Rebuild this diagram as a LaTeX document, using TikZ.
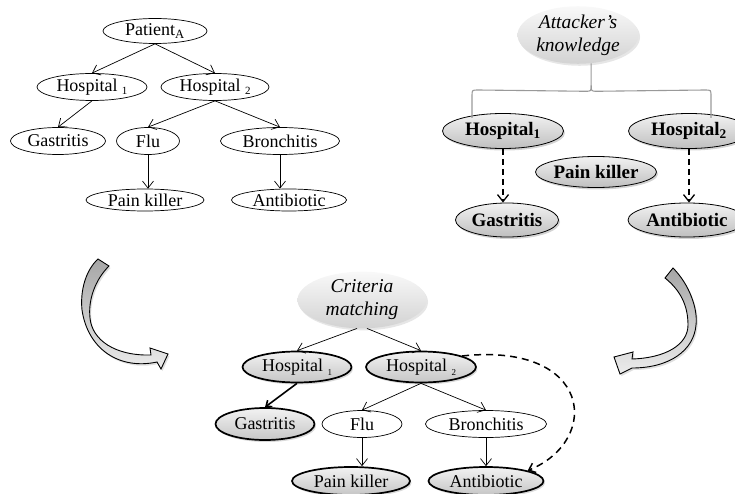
\documentclass[tikz,border=0pt]{standalone}
\usepackage{fontspec}
\setmainfont{Liberation Serif}
\usetikzlibrary{shapes.geometric,arrows.meta,shadows,calc}
\tikzset{
  base/.style={ellipse, inner sep=0pt, align=center, font=\fontsize{18}{22}\selectfont},
  wh/.style 2 args={minimum width=#1, minimum height=#2},
  plainnode/.style={base, draw, line width=0.7pt, fill=white},
  graynode/.style={base, draw, line width=0.8pt, top color=gray!10, bottom color=gray!50,
    drop shadow={opacity=0.35, shadow xshift=1.5pt, shadow yshift=-2pt},
    font=\fontsize{19}{22}\selectfont\bfseries},
  thicknode/.style={base, draw, line width=1.7pt, top color=gray!10, bottom color=gray!45,
    drop shadow={opacity=0.3, shadow xshift=1.5pt, shadow yshift=-2pt}},
  cloudnode/.style={base, top color=gray!5, bottom color=gray!35,
    drop shadow={opacity=0.2, shadow xshift=1.5pt, shadow yshift=-2pt},
    font=\fontsize{19.5}{23}\selectfont\itshape},
  arr/.style={-{Straight Barb[length=7pt,width=11pt]}, line width=0.7pt},
  thickarr/.style={-{Straight Barb[length=5pt,width=8pt]}, line width=1.6pt},
  dasharr/.style={-{Straight Barb[length=7pt,width=11pt]}, line width=1.3pt, dash pattern=on 6pt off 4pt},
  bigdash/.style={-{Straight Barb[length=6pt,width=10pt]}, line width=1.5pt, dash pattern=on 7pt off 5pt},
  bracket/.style={draw=gray!80, line width=1.1pt},
  blockarrow/.style={draw=black, line width=0.9pt, top color=gray!70, bottom color=gray!15,
    drop shadow={opacity=0.25, shadow xshift=1.5pt, shadow yshift=-2pt}}
}
\newcommand{\lsub}[1]{\raisebox{-3pt}{\fontsize{11}{11}\selectfont #1}}
\newcommand{\bsub}[1]{\raisebox{-4pt}{\fontsize{9}{9}\selectfont #1}}
\begin{document}
\begin{tikzpicture}[x=1pt,y=-1pt]
\useasboundingbox (0,0) rectangle (735,494);
\clip (0,0) rectangle (735,494);

% ---------- left tree ----------
\node[plainnode, wh={104}{25}] (pat) at (155,31) {Patient\textsubscript{A}};
\node[plainnode, wh={110}{27}] (lh1) at (92,87) {Hospital \lsub{1}};
\node[plainnode, wh={108}{27}] (lh2) at (215,87) {Hospital \lsub{2}};
\node[plainnode, wh={95}{27}] (lg) at (58,141) {Gastritis};
\node[plainnode, wh={63}{27}] (lf) at (148,141) {Flu};
\node[plainnode, wh={119}{27}] (lb) at (280,141) {Bronchitis};
\node[plainnode, wh={118}{22}] (lp) at (145,200) {Pain killer};
\node[plainnode, wh={115}{22}] (la) at (289,200) {Antibiotic};

\draw[arr] (pat.south) -- (lh1.north);
\draw[arr] (pat.south) -- (lh2.north);
\draw[arr] (lh1.south) -- (lg.north);
\draw[arr] (lh2.south) -- (lf.north);
\draw[arr] (lh2.south) -- (lb.north);
\draw[arr] (lf.south) -- (lf.south |- lp.north);
\draw[arr] (lb.south) -- (lb.south |- la.north);

% ---------- attacker's knowledge ----------
\node[cloudnode, wh={121}{56}] (att) at (578,35) {Attacker’s\\knowledge};
\node[graynode, wh={121}{35}] (rh1) at (503,131) {Hospital\textsubscript{1}};
\node[graynode, wh={121}{35}] (rh2) at (689,131) {Hospital\textsubscript{2}};
\node[graynode, wh={121}{31}] (rp) at (596,172) {Pain killer};
\node[graynode, wh={103}{34}] (rg) at (507,220) {Gastritis};
\node[graynode, wh={118}{34}] (ra) at (687,220) {Antibiotic};

\coordinate (cusp) at ($(att.-65)+(0,22)$);
\draw[bracket] (att.-65) -- (cusp)
  .. controls ($(cusp)+(0,6)$) .. ($(cusp)+(-6,6)$) -- (478,90)
  .. controls (472,90) .. (472,96) -- (472,118);
\draw[bracket] (cusp)
  .. controls ($(cusp)+(0,6)$) .. ($(cusp)+(6,6)$) -- (705,90)
  .. controls (711,90) .. (711,96) -- (711,118);

\draw[dasharr] (rh1.south) -- (rh1.south |- rg.north);
\draw[dasharr] (rh2.south) -- (rh2.south |- ra.north);

% ---------- criteria matching ----------
\node[cloudnode, wh={129}{56}] (crit) at (362,300) {Criteria\\matching};
\node[thicknode, wh={109}{31}] (bh1) at (297,367) {Hospital \bsub{1}};
\node[thicknode, wh={110}{31}] (bh2) at (421,367) {Hospital \bsub{2}};
\node[thicknode, wh={99}{32}] (bg) at (265,424) {Gastritis};
\node[plainnode, wh={80}{27}] (bf) at (362,424) {Flu};
\node[plainnode, wh={121}{27}] (bb) at (486,424) {Bronchitis};
\node[thicknode, wh={118}{28}] (bp) at (351,481) {Pain killer};
\node[thicknode, wh={115}{28}] (ba) at (486,481) {Antibiotic};

\draw[arr] (crit.-100) -- (bh1.north);
\draw[arr] (crit.-80) -- (bh2.north);
\draw[thickarr] (bh1.south) -- (bg.north);
\draw[arr] (bh2.south) -- (bf.north);
\draw[arr] (bh2.south) -- (bb.north);
\draw[arr] (bf.south) -- (bf.south |- bp.north);
\draw[arr] (bb.south) -- (ba.north);
\draw[bigdash] (bh2.15) .. controls (592,342) and (602,440) .. (ba.14);

% ---------- curved block arrows ----------
\path[blockarrow] (98,259) -- (109,266)
  .. controls (95,280) and (88,300) .. (90,318)
  .. controls (92,340) and (115,356) .. (151,355)
  -- (150,348) -- (168,354) -- (161,369) -- (157,362)
  .. controls (120,370) and (88,350) .. (82,310)
  .. controls (80,290) and (86,270) .. cycle;

\path[blockarrow] (673,268)
  .. controls (690,285) and (698,310) .. (696,325)
  .. controls (694,350) and (670,368) .. (632,368)
  -- (620,374) -- (614,357) -- (633,352) -- (632,359)
  .. controls (665,358) and (688,345) .. (688,325)
  .. controls (688,305) and (680,290) .. (665,278) -- cycle;
\end{tikzpicture}
\end{document}
